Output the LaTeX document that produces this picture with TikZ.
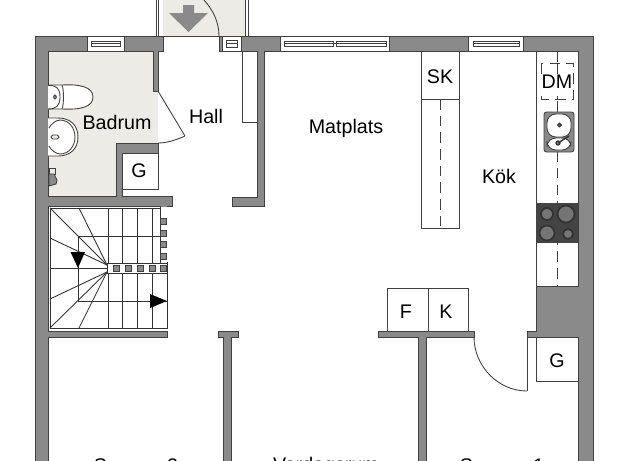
\documentclass[tikz,border=0pt]{standalone}
\usepackage{fontspec}
\setmainfont{Liberation Sans}
\definecolor{wallgrey}{HTML}{8A8A8A}
\definecolor{edgegrey}{HTML}{404040}
\definecolor{floorgrey}{HTML}{EDEBE6}
\definecolor{hobgrey}{HTML}{444444}
\tikzset{
  wall/.style={fill=wallgrey, draw=edgegrey, line width=0.45pt},
  thinline/.style={draw=edgegrey, line width=0.5pt},
  blackline/.style={draw=black!80, line width=0.5pt},
  cutline/.style={draw=edgegrey, line width=0.5pt, dash pattern=on 6pt off 3.5pt},
  winbox/.style={fill=white, draw=edgegrey, line width=0.45pt},
  baluster/.style={fill=wallgrey, draw=edgegrey, line width=0.35pt},
  burner/.style={fill=wallgrey!85!black, draw=black!80, line width=1pt},
  roomlabel/.style={font=\fontsize{11.2}{13}\selectfont, inner sep=0pt, text=black}
}
\begin{document}
\begin{tikzpicture}[x=0.02cm, y=-0.02cm]
        \useasboundingbox (0,0) rectangle (625,460);
        \clip (0,0) rectangle (625,460);
        \fill[floorgrey] (163,-5) rectangle (245,36);
        \fill[floorgrey] (48,51) -- (153,51) -- (153,91) -- (158,91) -- (158,143) -- (116,143) -- (116,196) -- (48,196) -- cycle;
        \draw[thinline] (156,-5) -- (156,36);
        \draw[thinline] (158,-5) -- (158,36);
        \draw[thinline] (245,-5) -- (245,36);
        \draw[thinline] (248,-5) -- (248,36);
        \draw[thinline] (163,36) -- (219,36);
        \draw[thinline] (219,36) .. controls (219,22) and (213,10) .. (204,0);
        \fill[wallgrey] (183,5) -- (194,5) -- (194,13) -- (208,13) -- (188.5,32) -- (169,13) -- (183,13) -- cycle;
        \draw[wall] (35,465) -- (35,36) -- (163,36) -- (163,51) -- (158,51) -- (158,91) -- (153,91) -- (153,51) -- (48,51) -- (48,196) -- (116,196) -- (116,143) -- (158,143) -- (158,153) -- (122,153) -- (122,196) -- (172,196) -- (172,206) -- (167,206) -- (167,212) -- (160,212) -- (160,206) -- (48,206) -- (48,331) -- (167,331) -- (167,337) -- (48,337) -- (48,465) -- cycle;
        \draw[wall] (219,36) -- (593,36) -- (593,465) -- (578,465) -- (578,337) -- (527,337) -- (527,331) -- (536,331) -- (536,286) -- (578,286) -- (578,51) -- (264,51) -- (264,206) -- (232,206) -- (232,197) -- (257,197) -- (257,51) -- (219,51) -- cycle;
        \draw[wall] (218,331) -- (238,331) -- (238,337) -- (231,337) -- (231,465) -- (223,465) -- (223,337) -- (218,337) -- cycle;
        \draw[wall] (378,331) -- (474,331) -- (474,337) -- (426,337) -- (426,465) -- (418,465) -- (418,337) -- (378,337) -- cycle;
        \draw[winbox] (87,36) rectangle (124,51);
        \draw[thinline] (91,41) rectangle (120,46);
        \draw[thinline] (91,43.5) -- (120,43.5);
        \draw[winbox] (222,36) rectangle (241,51);
        \draw[thinline] (226,40) rectangle (237,47);
        \draw[thinline] (226,43.5) -- (237,43.5);
        \draw[winbox] (280,36) rectangle (389,51);
        \draw[thinline] (284,41) rectangle (333,46);
        \draw[thinline] (336,41) rectangle (386,46);
        \draw[thinline] (284,43.5) -- (386,43.5);
        \draw[winbox] (468,36) rectangle (523,51);
        \draw[thinline] (473,41) rectangle (519,46);
        \draw[thinline] (473,43.5) -- (519,43.5);
        \draw[thinline] (158,91) -- (185,136);
        \draw[thinline] (185,136) .. controls (176,140) and (167,143) .. (158,143);
        \draw[thinline] (122,189) -- (158,189) -- (158,153);
        \draw[thinline] (242,51) -- (242,122) -- (257,122);
        \draw[thinline] (421,51) rectangle (459,228);
        \draw[thinline] (421,99) -- (459,99);
        \draw[cutline] (440,99) -- (440,228);
        \draw[thinline] (536,51) -- (536,286);
        \draw[thinline] (536,286) -- (578,286);
        \draw[cutline] (557,51) -- (557,286);
        \draw[cutline, fill=white] (541,63) rectangle (573,99);
        \draw[cutline] (557,63) -- (557,99);
        \node[roomlabel, fill=white, inner sep=0.5pt] at (557,82) (dmlabel) {DM};
        \draw[thinline, fill=wallgrey, rounded corners=1.5pt] (544,112) rectangle (574,152);
        \draw[thinline, fill=white, rounded corners=5pt] (547,114) rectangle (571,137);
        \draw[thinline, fill=white, rounded corners=5pt] (547,138) rectangle (571,150);
        \draw[fill=wallgrey, draw=black!80, line width=0.7pt] (559.5,125) circle (1.8);
        \draw[fill=wallgrey, draw=black!80, line width=0.7pt] (558,143) circle (2);
        \draw[draw=black!80, line width=0.8pt] (558,143) -- (569,136);
        \fill[hobgrey] (536,203) rectangle (578,243);
        \draw[burner] (547,214) circle (6);
        \draw[burner] (566,214) circle (8.5);
        \draw[burner] (547,233) circle (7.5);
        \draw[burner] (568,234) circle (5);
        \draw[thinline] (536,337) rectangle (578,381);
        \draw[thinline] (387,288) rectangle (468,331);
        \draw[thinline] (428,288) -- (428,331);
        \draw[thinline] (527,337) -- (527,391);
        \draw[thinline] (474,337) .. controls (474,366) and (498,391) .. (527,391);
        \draw[thinline, fill=white] (48,85) .. controls (54,85) and (58,85) .. (62,85) .. controls (80,84) and (93,87) .. (93,97) .. controls (93,107) and (80,110) .. (62,109) .. controls (58,109) and (54,109) .. (48,109);
        \draw[thinline] (48,85.5) .. controls (56,85) and (60,88) .. (60,97) .. controls (60,106) and (56,109) .. (48,109);
        \draw[thinline] (62,85) .. controls (64,90) and (64,104) .. (62,109);
        \draw[thinline, fill=wallgrey] (55,97) ellipse (1.3 and 2);
        \draw[thinline, fill=white] (48,118) -- (58,118) .. controls (70,118) and (78,125) .. (78,137) .. controls (78,149) and (70,156) .. (58,156) -- (48,156);
        \draw[thinline] (60,120) .. controls (69,120) and (75,128) .. (75,137) .. controls (75,146) and (69,154) .. (60,154) .. controls (56,154) and (51,150) .. (49,146);
        \draw[thinline] (49,128) .. controls (51,124) and (56,120) .. (60,120);
        \draw[thinline, fill=floorgrey, rounded corners=1pt] (51,135) rectangle (59,139);
        \draw[thinline, fill=floorgrey] (49,168) rectangle (55,174);
        \draw[thinline, fill=wallgrey] (49,174) -- (54,174) -- (57,180) -- (56,184) -- (49,186) -- cycle;
        \draw[blackline] (50,208) rectangle (167,328);
        \draw[blackline] (50,208) -- (107,265);
        \draw[blackline] (79,208) -- (107,265);
        \draw[blackline] (50,238) -- (107,265);
        \draw[blackline] (50,268) -- (107,268);
        \draw[blackline] (50,299) -- (107,272);
        \draw[blackline] (50,328) -- (107,272);
        \draw[blackline] (79,328) -- (107,272);
        \draw[blackline] (78,236) -- (78,301);
        \draw[blackline] (78,236) -- (160,236);
        \draw[blackline] (78,301) -- (167,301);
        \draw[blackline] (108,208) -- (108,263);
        \draw[blackline] (122,208) -- (122,263);
        \draw[blackline] (137,208) -- (137,263);
        \draw[blackline] (152,208) -- (152,263);
        \draw[blackline] (160,208) -- (160,263);
        \draw[blackline] (108,273) -- (108,328);
        \draw[blackline] (122,273) -- (122,328);
        \draw[blackline] (137,273) -- (137,328);
        \draw[blackline] (152,273) -- (152,328);
        \fill[white] (160.5,206.5) rectangle (170,262);
        \draw[blackline, fill=white] (107,263) rectangle (167,273);
        \draw[baluster] (113,265) rectangle (119,271);
        \draw[baluster] (125,265) rectangle (131,271);
        \draw[baluster] (137,265) rectangle (143,271);
        \draw[baluster] (149,265) rectangle (155,271);
        \draw[baluster] (160.5,265) rectangle (166.5,271);
        \draw[baluster] (160.5,218) rectangle (166.5,224);
        \draw[baluster] (160.5,230) rectangle (166.5,236);
        \draw[baluster] (160.5,241) rectangle (166.5,247);
        \draw[baluster] (160.5,253) rectangle (166.5,259);
        \fill[black] (70.5,252) -- (85,252) -- (78,268) -- cycle;
        \fill[black] (150,294) -- (167,301) -- (150,308) -- cycle;
        \node[roomlabel] at (117,122) (badrum) {Badrum};
        \node[roomlabel] at (206,116) (hall) {Hall};
        \node[roomlabel] at (346,128) (matplats) {Matplats};
        \node[roomlabel] at (440,77) (skap) {SK};
        \node[roomlabel] at (499,176) (kok) {Kök};
        \node[roomlabel] at (139,171) (garderob) {G};
        \node[roomlabel] at (406,312) (frys) {F};
        \node[roomlabel] at (446,312) (kyl) {K};
        \node[roomlabel] at (557,361) (garderobb) {G};
        \node[roomlabel] at (136,466) (sovrumb) {Sovrum 2};
        \node[roomlabel] at (326,466) (vardagsrum) {Vardagsrum};
        \node[roomlabel] at (502,466) (sovruma) {Sovrum 1};
\end{tikzpicture}
\end{document}
